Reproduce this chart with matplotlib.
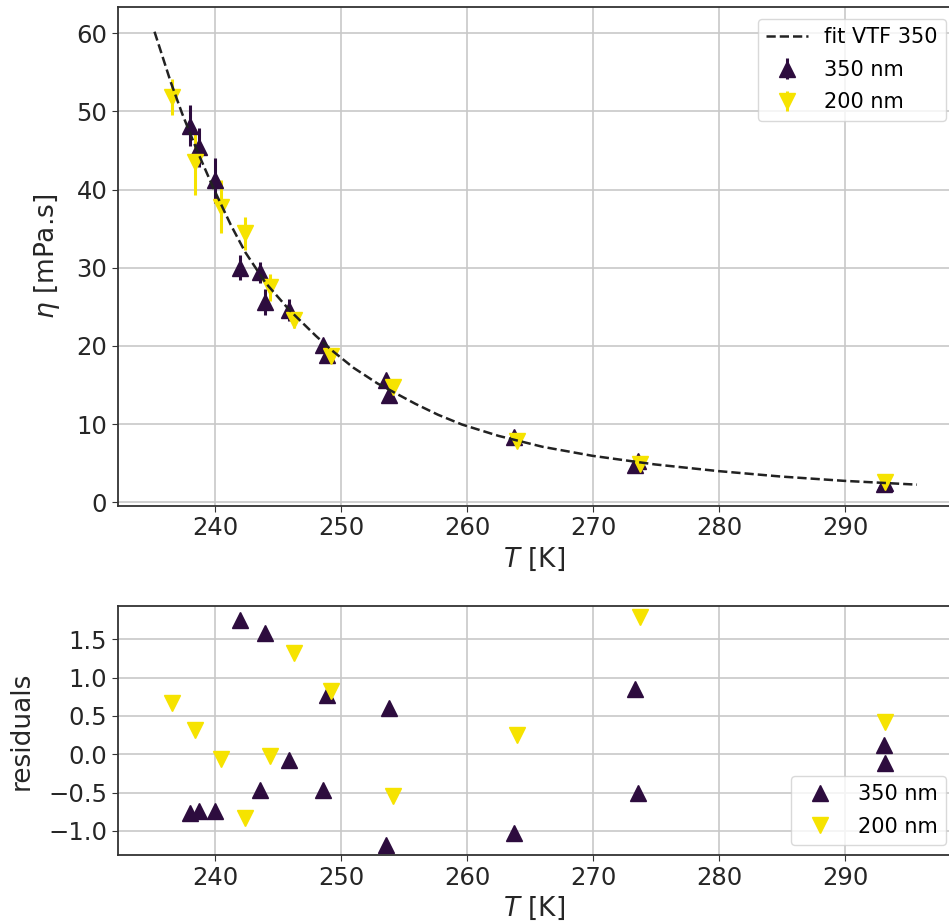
import numpy as np
import matplotlib
matplotlib.use("Agg")
import matplotlib.pyplot as plt

# 350 nm data (T, eta, error, residual)
T_350 = [238.0, 238.7, 240.0, 241.95, 243.6, 243.95, 245.9, 248.6, 248.85,
         253.6, 253.8, 263.7, 273.35, 273.55, 293.1, 293.2]
eta_350 = [48.2, 45.4, 41.2, 30.0, 29.4, 25.6, 24.6, 20.1, 18.9,
           15.6, 13.7, 8.3, 4.8, 5.35, 2.3, 2.45]
err_350 = [2.6, 2.5, 2.9, 1.6, 1.4, 1.65, 1.4, 0.8, 0.7,
           0.8, 0.6, 0.5, 0.3, 0.3, 0.2, 0.2]
res_350 = [-0.76, -0.74, -0.74, 1.75, -0.47, 1.58, -0.08, -0.46, 0.77,
           -1.18, 0.61, -1.03, 0.85, -0.50, 0.12, -0.11]

# 200 nm data
T_200 = [236.6, 238.45, 240.5, 242.4, 244.4, 246.3, 249.2, 254.15, 263.95, 273.75, 293.2]
eta_200 = [51.8, 43.5, 37.8, 34.4, 27.5, 23.3, 18.7, 14.7, 7.9, 4.95, 2.6]
err_200 = [2.3, 4.2, 3.4, 2.1, 1.7, 1.0, 0.6, 0.5, 0.4, 0.3, 0.2]
res_200 = [0.67, 0.32, -0.06, -0.83, -0.02, 1.32, 0.82, -0.55, 0.25, 1.79, 0.42]

# fit curve, points
T_fit = [235.2, 236.5, 237.4, 238.6, 239.9, 241.25, 242.4, 244.0, 245.9, 248.0,
         249.3, 251.0, 252.9, 254.4, 255.9, 257.7, 259.6, 262.5, 266.0, 269.95,
         274.9, 279.9, 284.9, 289.9, 295.7]
eta_fit = [60.2, 53.7, 49.7, 44.9, 40.1, 35.5, 32.0, 28.1, 24.6, 21.3,
           19.4, 17.2, 15.2, 13.9, 12.6, 11.2, 9.95, 8.5, 7.1, 5.95,
           4.85, 4.0, 3.3, 2.75, 2.26]

c350 = "#2d0c3e"
c200 = "#f6e300"

plt.rcParams["font.family"] = "DejaVu Sans"
plt.rcParams["axes.edgecolor"] = "#333333"
plt.rcParams["axes.linewidth"] = 1.3
plt.rcParams["grid.color"] = "#c8c8c8"
plt.rcParams["grid.linewidth"] = 1.2
plt.rcParams["xtick.color"] = "#333333"
plt.rcParams["ytick.color"] = "#333333"
plt.rcParams["xtick.labelcolor"] = "#262626"
plt.rcParams["ytick.labelcolor"] = "#262626"
plt.rcParams["xtick.labelsize"] = 17.5
plt.rcParams["ytick.labelsize"] = 17.5
plt.rcParams["axes.labelsize"] = 19
plt.rcParams["axes.labelcolor"] = "#262626"
plt.rcParams["xtick.major.size"] = 4
plt.rcParams["ytick.major.size"] = 4
plt.rcParams["legend.fontsize"] = 15

fig = plt.figure(figsize=(9.49, 9.24), dpi=100)
ax1 = fig.add_axes([117.7 / 949, 1 - 506 / 924, (951 - 117.7) / 949, (506 - 7) / 924])
ax2 = fig.add_axes([117.7 / 949, 1 - 855.3 / 924, (951 - 117.7) / 949, (855.3 - 605.7) / 924])

# top panel
ax1.plot(T_fit, eta_fit, "--", color="#222222", lw=1.8, label="fit VTF 350", zorder=4)
ax1.errorbar(T_350, eta_350, yerr=err_350, fmt="^", color=c350, ms=11,
             elinewidth=2.2, capsize=0, label="350 nm", zorder=3)
ax1.errorbar(T_200, eta_200, yerr=err_200, fmt="v", color=c200, ms=11,
             elinewidth=2.2, capsize=0, label="200 nm", zorder=3)
ax1.set_xlim(232.28, 298.4)
ax1.set_ylim(-0.47, 63.36)
ax1.set_xticks([240, 250, 260, 270, 280, 290])
ax1.set_yticks([0, 10, 20, 30, 40, 50, 60])
ax1.grid(True)
ax1.set_axisbelow(True)
ax1.set_xlabel("$T$ [K]")
ax1.set_ylabel("$\\eta$ [mPa.s]", labelpad=10)
ax1.legend(loc="upper right", bbox_to_anchor=(946 / 949, 1 - 19 / 924),
           bbox_transform=fig.transFigure, borderaxespad=0, framealpha=0.8,
           edgecolor="#d0d0d0", labelspacing=0.6)

# residuals
ax2.plot(T_350, res_350, "^", color=c350, ms=11, ls="none", label="350 nm")
ax2.plot(T_200, res_200, "v", color=c200, ms=11, ls="none", label="200 nm")
ax2.set_xlim(232.28, 298.4)
ax2.set_ylim(-1.317, 1.938)
ax2.set_xticks([240, 250, 260, 270, 280, 290])
ax2.set_yticks([-1.0, -0.5, 0.0, 0.5, 1.0, 1.5])
ax2.grid(True)
ax2.set_axisbelow(True)
ax2.set_xlabel("$T$ [K]")
ax2.set_ylabel("residuals", labelpad=10)
ax2.legend(loc="lower right", bbox_to_anchor=(946 / 949, 1 - 845 / 924),
           bbox_transform=fig.transFigure, borderaxespad=0, framealpha=0.8,
           edgecolor="#d0d0d0", labelspacing=0.6)

fig.align_ylabels([ax1, ax2])

fig.savefig("out.png", dpi=100)
